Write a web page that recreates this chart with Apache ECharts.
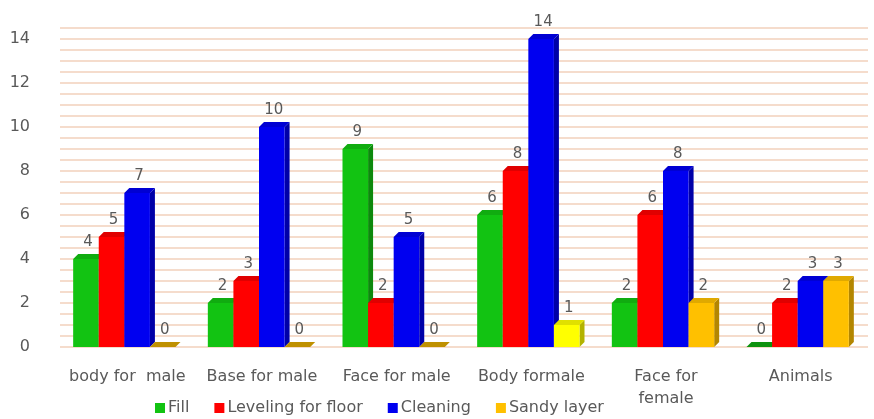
<!DOCTYPE html>
<html>
<head>
<meta charset="utf-8">
<script src="https://cdn.jsdelivr.net/npm/echarts@6/dist/echarts.min.js"></script>
<style>
  html, body { margin: 0; padding: 0; background: #fff; }
  #chart { width: 874px; height: 419px; }
</style>
</head>
<body>
<div id="chart"></div>
<script>
var categories = ['body for  male', 'Base for male', 'Face for male', 'Body formale', 'Face for\nfemale', 'Animals']
var seriesNames = ['Fill', 'Leveling for floor', 'Cleaning', 'Sandy layer']
var fillValues = [4, 2, 9, 6, 2, 0]
var levelingValues = [5, 3, 2, 8, 6, 2]
var cleaningValues = [7, 10, 5, 14, 8, 3]
var sandyValues = [0, 0, 0, 1, 2, 3]
var yTicks = [0, 2, 4, 6, 8, 10, 12, 14]

var COLORS = ['#12c312', '#ff0000', '#0000f0', '#ffc000']
// the single "Body formale" sandy bar is drawn in plain yellow in the original
var itemColorOverride = { 3: { 3: '#ffff00' } }
var FONT = '"DejaVu Sans"'

function shade (color, k) {
  var c = echarts.color.parse(color)
  return 'rgb(' + Math.round(c[0] * k) + ',' + Math.round(c[1] * k) + ',' + Math.round(c[2] * k) + ')'
}

// pseudo 3D bar: front face, right side and top, positioned from the axes
function bar3d (seriesIdx) {
  return function (params, api) {
    var cat = api.value(0)
    var val = api.value(1)
    var band = api.size([1, 0])[0]
    var w = band * 0.19
    var d = 5
    var base = api.coord([cat, 0])
    var tip = api.coord([cat, val])
    var x0 = base[0] - 2 * w + seriesIdx * w - 3
    var x1 = x0 + w
    var color = api.visual('color')
    var side = shade(color, 0.7)
    var top = shade(color, 0.88)
    return {
      type: 'group',
      children: [
        {
          type: 'polygon',
          shape: { points: [[x1, tip[1]], [x1 + d, tip[1] - d], [x1 + d, base[1] - d], [x1, base[1]]] },
          style: { fill: side }
        },
        {
          type: 'rect',
          shape: { x: x0, y: tip[1], width: w, height: base[1] - tip[1] },
          style: { fill: color }
        },
        {
          type: 'polygon',
          shape: { points: [[x0, tip[1]], [x0 + d, tip[1] - d], [x1 + d, tip[1] - d], [x1, tip[1]]] },
          style: { fill: val === 0 ? shade(color, 0.75) : top }
        },
        {
          type: 'text',
          x: x0 + w / 2 + 2,
          y: tip[1] - d - 4,
          style: {
            text: String(val),
            fill: '#595959',
            font: '15px ' + FONT,
            align: 'center',
            verticalAlign: 'bottom'
          }
        }
      ]
    }
  }
}

function buildData (values, seriesIdx) {
  return values.map(function (v, i) {
    var item = { value: [i, v] }
    var o = itemColorOverride[seriesIdx]
    if (o && o[i]) item.itemStyle = { color: o[i] }
    return item
  })
}

var allValues = [fillValues, levelingValues, cleaningValues, sandyValues]

var chart = echarts.init(document.getElementById('chart'))
chart.setOption({
  animation: false,
  textStyle: { fontFamily: FONT },
  legend: {
    left: 150,
    bottom: -2,
    itemWidth: 10,
    itemHeight: 10,
    itemGap: 25,
    icon: 'rect',
    textStyle: { color: '#595959', fontSize: 16, padding: [0, 0, 0, -2] },
    data: seriesNames
  },
  grid: {
    left: 60,
    right: 6,
    top: 28,
    bottom: 72,
    containLabel: false
  },
  xAxis: {
    type: 'category',
    data: categories,
    axisLine: { show: false },
    axisTick: { show: false },
    axisLabel: {
      interval: 0,
      margin: 19,
      color: '#595959',
      fontSize: 16,
      lineHeight: 22
    }
  },
  yAxis: {
    type: 'value',
    min: 0,
    max: 14.5,
    interval: 2,
    axisLine: { show: false },
    axisTick: { show: false },
    axisLabel: {
      showMaxLabel: false,
      margin: 30,
      color: '#595959',
      fontSize: 16,
      formatter: function (v) { return yTicks.indexOf(v) >= 0 ? String(v) : '' }
    },
    splitLine: { lineStyle: { color: '#f5dccc', width: 2 } },
    minorTick: { show: false, splitNumber: 4 },
    minorSplitLine: { show: true, lineStyle: { color: '#f5dccc', width: 2 } }
  },
  series: seriesNames.map(function (name, idx) {
    return {
      name: name,
      type: 'custom',
      itemStyle: { color: COLORS[idx] },
      renderItem: bar3d(idx),
      encode: { x: 0, y: 1 },
      data: buildData(allValues[idx], idx)
    }
  })
})
</script>
</body>
</html>
